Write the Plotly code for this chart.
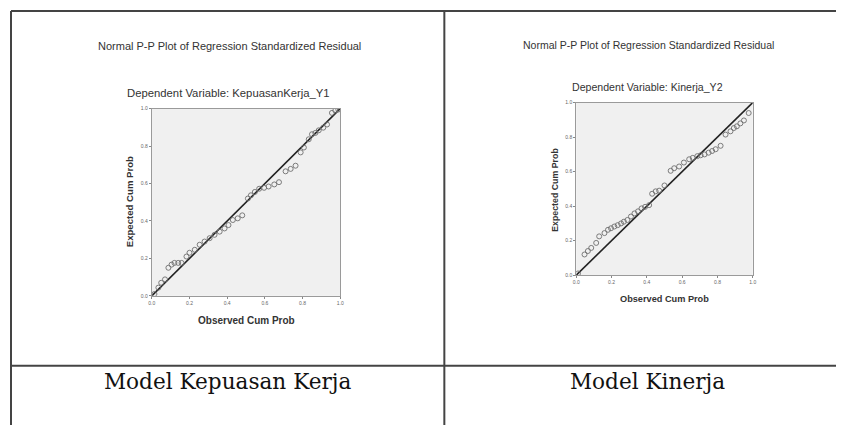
import plotly.graph_objects as go

# page body has an 8px default margin, so the figure is drawn 8px in and sized to fit
OFF = 8
W, H = 844 - OFF, 428 - OFF

# ---- data ----
obs1 = [0.014, 0.035, 0.05, 0.07, 0.088, 0.105, 0.12, 0.14, 0.158, 0.184, 0.2, 0.228, 0.254, 0.28,
        0.307, 0.333, 0.36, 0.386, 0.407, 0.43, 0.456, 0.48, 0.51, 0.526, 0.547, 0.57, 0.596, 0.62,
        0.65, 0.675, 0.71, 0.737, 0.763, 0.79, 0.807, 0.833, 0.85, 0.868, 0.886, 0.91, 0.93, 0.956,
        0.974, 0.99]
exp1 = [0.01, 0.044, 0.07, 0.088, 0.15, 0.167, 0.176, 0.176, 0.176, 0.21, 0.23, 0.246, 0.273, 0.29,
        0.308, 0.326, 0.343, 0.36, 0.378, 0.405, 0.414, 0.43, 0.52, 0.537, 0.555, 0.572, 0.577, 0.584,
        0.595, 0.607, 0.665, 0.678, 0.695, 0.766, 0.792, 0.836, 0.863, 0.87, 0.884, 0.898, 0.915, 0.977,
        0.99, 0.995]

obs2 = [0.01, 0.047, 0.066, 0.085, 0.113, 0.13, 0.16, 0.18, 0.197, 0.216, 0.235, 0.254, 0.27, 0.29,
        0.31, 0.33, 0.35, 0.37, 0.39, 0.413, 0.43, 0.45, 0.47, 0.5, 0.535, 0.555, 0.583, 0.61, 0.64,
        0.66, 0.686, 0.705, 0.727, 0.75, 0.77, 0.79, 0.818, 0.846, 0.874, 0.893, 0.91, 0.93, 0.95, 0.977]
exp2 = [0.01, 0.12, 0.14, 0.158, 0.187, 0.225, 0.244, 0.263, 0.272, 0.282, 0.29, 0.3, 0.31, 0.32,
        0.34, 0.358, 0.37, 0.387, 0.396, 0.406, 0.472, 0.486, 0.49, 0.52, 0.605, 0.62, 0.63, 0.653, 0.672,
        0.68, 0.69, 0.695, 0.7, 0.71, 0.72, 0.73, 0.75, 0.815, 0.834, 0.853, 0.863, 0.88, 0.897, 0.94]

diag = [0.0, 1.0]
tick_vals = [0.0, 0.2, 0.4, 0.6, 0.8, 1.0]
tick_text = ["0.0", "0.2", "0.4", "0.6", "0.8", "1.0"]

main_title = "Normal P-P Plot of Regression Standardized Residual"
sub1 = "Dependent Variable: KepuasanKerja_Y1"
sub2 = "Dependent Variable: Kinerja_Y2"
x_title = "Observed Cum Prob"
y_title = "Expected Cum Prob"
label1 = "Model Kepuasan Kerja"
label2 = "Model Kinerja"


def px(x):
    return (x - OFF) / W


def py(y):
    return 1 - (y - OFF) / H


fig = go.Figure()

for obs, exp, xa, ya in [(obs1, exp1, "x", "y"), (obs2, exp2, "x2", "y2")]:
    fig.add_trace(go.Scatter(x=diag, y=diag, mode="lines", xaxis=xa, yaxis=ya,
                             line=dict(color="#222222", width=1.6), showlegend=False,
                             hoverinfo="skip"))
    fig.add_trace(go.Scatter(x=obs, y=exp, mode="markers", xaxis=xa, yaxis=ya,
                             marker=dict(symbol="circle-open", size=5, color="#6e6e6e",
                                         line=dict(width=0.9)), showlegend=False))

axis_common = dict(range=[0, 1], tickvals=tick_vals, ticktext=tick_text, ticks="outside",
                   ticklen=2, tickwidth=1, tickcolor="#888888", showgrid=False, zeroline=False,
                   showline=True, linecolor="#9a9a9a", linewidth=1, mirror=True,
                   tickfont=dict(size=5, color="#666666", family="Liberation Sans"), fixedrange=True)

fig.update_layout(
    width=W, height=H, margin=dict(l=0, r=0, t=0, b=0),
    paper_bgcolor="white", plot_bgcolor="#f0f0f0",
    xaxis=dict(domain=[px(150), px(340)], anchor="y", **axis_common),
    yaxis=dict(domain=[py(297), py(107)], anchor="x", **axis_common),
    xaxis2=dict(domain=[px(578), px(756)], anchor="y2", **axis_common),
    yaxis2=dict(domain=[py(276), py(101)], anchor="x2", **axis_common),
)

ann = []


def add_text(text, x, y, size, color="#333333", family="Liberation Sans", angle=0, bold=False):
    t = f"<b>{text}</b>" if bold else text
    ann.append(dict(text=t, x=px(x), y=py(y), xref="paper", yref="paper", showarrow=False,
                    xanchor="center", yanchor="middle", textangle=angle,
                    font=dict(size=size, color=color, family=family)))


add_text(main_title, 228, 44, 11.0)
add_text(main_title, 651, 42, 10.5)
add_text(sub1, 227, 91, 11.3)
add_text(sub2, 650, 85, 10.6)
add_text(x_title, 245, 322, 10.0, bold=True)
add_text(x_title, 667, 300, 9.2, bold=True)
add_text(y_title, 127, 202, 9.6, angle=-90, bold=True)
add_text(y_title, 557, 189, 8.8, angle=-90, bold=True)
add_text(label1, 226, 384, 21.6, color="#111111", family="DejaVu Serif")
add_text(label2, 650, 384, 21.6, color="#111111", family="DejaVu Serif")

fig.update_layout(annotations=ann)

line_style = dict(color="#444444", width=2)
shapes = [
    dict(type="line", xref="paper", yref="paper", x0=px(8), x1=1, y0=py(8), y1=py(8), line=line_style),
    dict(type="line", xref="paper", yref="paper", x0=px(8), x1=px(8), y0=py(8), y1=0, line=line_style),
    dict(type="line", xref="paper", yref="paper", x0=px(445), x1=px(445), y0=py(8), y1=0, line=line_style),
    dict(type="line", xref="paper", yref="paper", x0=px(8), x1=1, y0=py(368), y1=py(368), line=line_style),
]
fig.update_layout(shapes=shapes)

fig.write_html("out.html")
